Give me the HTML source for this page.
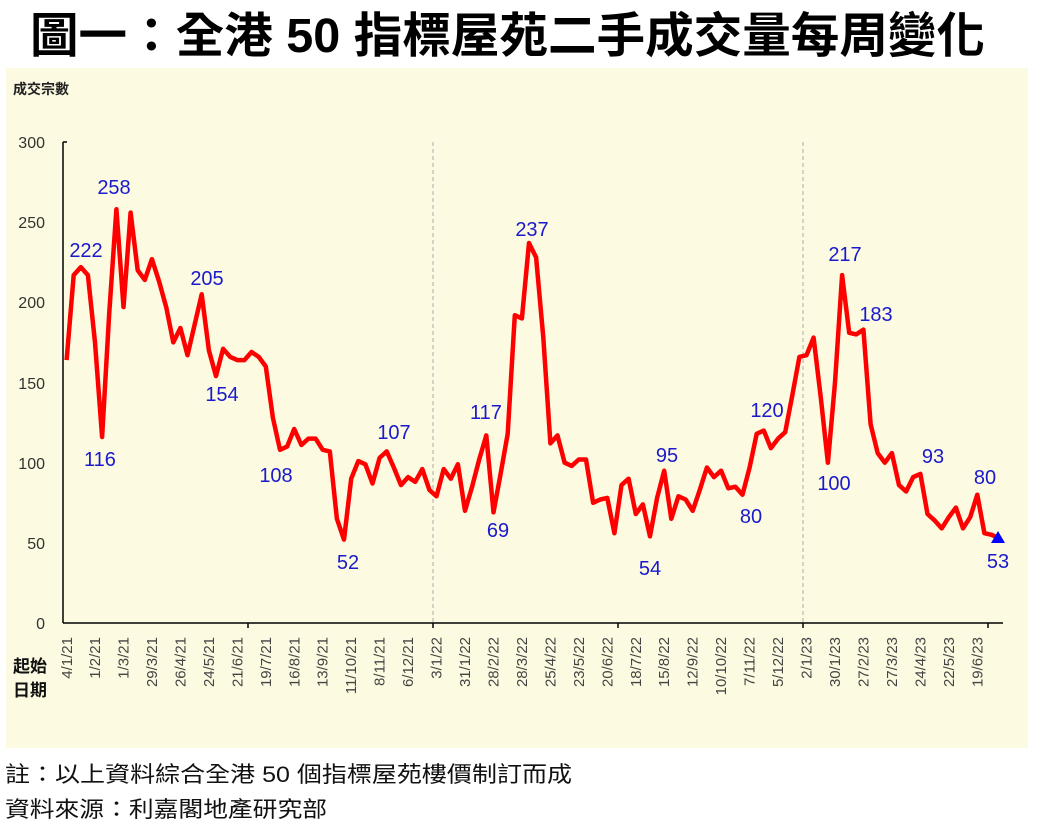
<!DOCTYPE html>
<html><head><meta charset="utf-8"><style>
html,body{margin:0;padding:0;background:#fff;}
svg{display:block;}
</style></head><body>
<svg id="s" width="1041" height="827" viewBox="0 0 1041 827" xmlns="http://www.w3.org/2000/svg" font-family="'Liberation Sans','Noto Sans CJK TC',sans-serif">
<text x="30" y="52" font-size="48" font-weight="bold" fill="#000" textLength="955" lengthAdjust="spacingAndGlyphs" font-family="'Liberation Sans','Noto Sans CJK TC',sans-serif">圖一：全港 50 指標屋苑二手成交量每周變化</text>
<rect x="6" y="68" width="1022" height="680" fill="#fcfae0"/>
<text x="13" y="94" font-size="14" font-weight="bold" fill="#222">成交宗數</text>
<g font-size="16" fill="#333" text-anchor="end">
<text x="45" y="148">300</text><text x="45" y="228">250</text><text x="45" y="308">200</text>
<text x="45" y="389">150</text><text x="45" y="469">100</text><text x="45" y="549">50</text><text x="45" y="629">0</text>
</g>
<g stroke="#aaa" stroke-width="1" stroke-dasharray="4,3"><line x1="433" y1="142" x2="433" y2="623"/><line x1="803" y1="142" x2="803" y2="623"/></g>
<g stroke="#000" stroke-width="1.5">
<line x1="63" y1="142" x2="63" y2="623"/><line x1="63" y1="623" x2="1003" y2="623"/>
<line x1="63" y1="142" x2="67" y2="142"/>
<line x1="248" y1="623" x2="248" y2="628"/><line x1="433" y1="623" x2="433" y2="628"/><line x1="618" y1="623" x2="618" y2="628"/><line x1="803" y1="623" x2="803" y2="628"/><line x1="988" y1="623" x2="988" y2="628"/>
</g>
<polyline id="pl" fill="none" stroke="#ff0000" stroke-width="4.5" stroke-linejoin="round" points=""/>
<polygon points="998,531 991,543 1005,543" fill="#0000ff"/>
<g font-size="20" fill="#1a1acc" text-anchor="middle">
<text x="86" y="257">222</text><text x="114" y="194">258</text><text x="100" y="466">116</text>
<text x="207" y="285">205</text><text x="222" y="401">154</text><text x="276" y="482">108</text>
<text x="394" y="439">107</text><text x="348" y="569">52</text><text x="486" y="419">117</text>
<text x="498" y="537">69</text><text x="532" y="236">237</text><text x="667" y="462">95</text>
<text x="650" y="575">54</text><text x="767" y="417">120</text><text x="751" y="523">80</text>
<text x="845" y="261">217</text><text x="876" y="321">183</text><text x="834" y="490">100</text>
<text x="933" y="463">93</text><text x="985" y="484">80</text><text x="998" y="568">53</text>
</g>
<g font-size="15" fill="#444" text-anchor="end">
<text transform="translate(72,637) rotate(-90)">4/1/21</text>
<text transform="translate(100,637) rotate(-90)">1/2/21</text>
<text transform="translate(128.5,637) rotate(-90)">1/3/21</text>
<text transform="translate(157,637) rotate(-90)">29/3/21</text>
<text transform="translate(185.4,637) rotate(-90)">26/4/21</text>
<text transform="translate(213.9,637) rotate(-90)">24/5/21</text>
<text transform="translate(242.3,637) rotate(-90)">21/6/21</text>
<text transform="translate(270.8,637) rotate(-90)">19/7/21</text>
<text transform="translate(299.3,637) rotate(-90)">16/8/21</text>
<text transform="translate(327.7,637) rotate(-90)">13/9/21</text>
<text transform="translate(356.2,637) rotate(-90)">11/10/21</text>
<text transform="translate(384.6,637) rotate(-90)">8/11/21</text>
<text transform="translate(413.1,637) rotate(-90)">6/12/21</text>
<text transform="translate(441.6,637) rotate(-90)">3/1/22</text>
<text transform="translate(470,637) rotate(-90)">31/1/22</text>
<text transform="translate(498.5,637) rotate(-90)">28/2/22</text>
<text transform="translate(526.9,637) rotate(-90)">28/3/22</text>
<text transform="translate(555.4,637) rotate(-90)">25/4/22</text>
<text transform="translate(583.9,637) rotate(-90)">23/5/22</text>
<text transform="translate(612.3,637) rotate(-90)">20/6/22</text>
<text transform="translate(640.8,637) rotate(-90)">18/7/22</text>
<text transform="translate(669.2,637) rotate(-90)">15/8/22</text>
<text transform="translate(697.7,637) rotate(-90)">12/9/22</text>
<text transform="translate(726.2,637) rotate(-90)">10/10/22</text>
<text transform="translate(754.6,637) rotate(-90)">7/11/22</text>
<text transform="translate(783.1,637) rotate(-90)">5/12/22</text>
<text transform="translate(811.5,637) rotate(-90)">2/1/23</text>
<text transform="translate(840,637) rotate(-90)">30/1/23</text>
<text transform="translate(868.5,637) rotate(-90)">27/2/23</text>
<text transform="translate(896.9,637) rotate(-90)">27/3/23</text>
<text transform="translate(925.4,637) rotate(-90)">24/4/23</text>
<text transform="translate(953.8,637) rotate(-90)">22/5/23</text>
<text transform="translate(982.3,637) rotate(-90)">19/6/23</text>
</g>
<g font-size="17" font-weight="bold" fill="#111">
<text x="13" y="672">起始</text><text x="13" y="696">日期</text>
</g>
<g font-size="22" fill="#111">
<text x="5" y="782" textLength="567" lengthAdjust="spacingAndGlyphs">註：以上資料綜合全港 50 個指標屋苑樓價制訂而成</text>
<text x="5" y="817" textLength="322" lengthAdjust="spacingAndGlyphs">資料來源：利嘉閣地產研究部</text>
</g>
</svg>
<script>
var v=[164,217,222,217,175,116,193,258,197,256,220,214,227,213,197,175,184,167,186,205,170,154,171,166,164,164,169,166,160,128,108,110,121,111,115,115,108,107,65,52,90,101,99,87,103,107,97,86,91,88,96,83,79,
96,90,99,70,85,102,117,69,93,118,192,190,237,228,178,112,117,100,98,102,102,75,77,78,56,86,90,68,74,54,78,95,65,79,77,70,83,97,91,95,84,85,80,97,118,120,109,115,119,142,166,167,178,
141,100,150,217,181,180,183,124,106,100,106,86,82,91,93,68,64,59,66,72,59,66,80,56,55,53];
var p=[];for(var i=0;i<v.length;i++){p.push((63+(i+0.5)*7.115).toFixed(1)+','+(623-v[i]*1.6033).toFixed(1));}
document.getElementById('pl').setAttribute('points',p.join(' '));
</script>
</body></html>
